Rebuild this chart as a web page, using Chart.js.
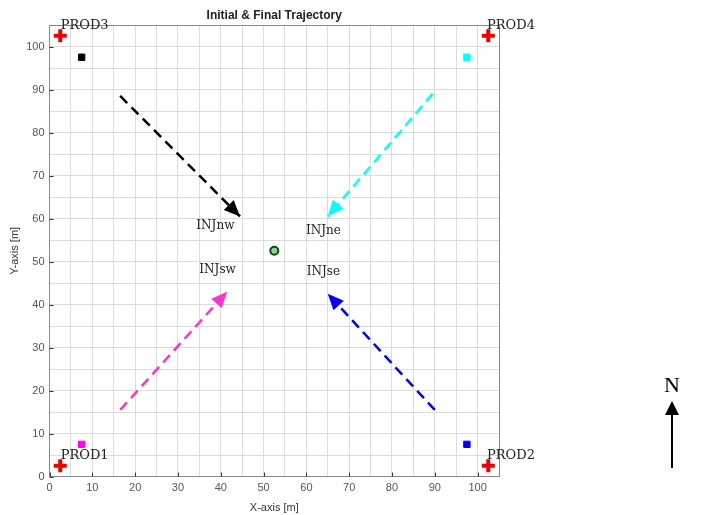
<!DOCTYPE html>
<html>
<head>
<meta charset="utf-8">
<script src="https://cdn.jsdelivr.net/npm/chart.js@4.4.0/dist/chart.umd.min.js"></script>
<style>
  html, body { margin: 0; padding: 0; background: #fff; }
  #wrap { width: 702px; height: 515px; }
</style>
</head>
<body>
<div id="wrap"><canvas id="trajChart"></canvas></div>
<script>
// Producers (red plus)
const prodX = [2.5, 102.5, 2.5, 102.5];
const prodY = [2.5, 2.5, 102.5, 102.5];
const prodNames = ['PROD1', 'PROD2', 'PROD3', 'PROD4'];
const prodLabelX = [2.6, 102.2, 2.6, 102.2];
const prodLabelY = [4.9, 4.9, 104.9, 104.9];

// Initial positions (small squares)
const startX = [7.5, 97.5, 7.5, 97.5];
const startY = [97.5, 97.5, 7.5, 7.5];
const startColors = ['#000000', '#00ffff', '#ff00ff', '#0000ff'];

// Trajectory arrows nw, ne, sw, se
const arrowX0 = [16.5, 89.5, 16.5, 90];
const arrowY0 = [88.5, 89, 15.5, 15.5];
const arrowX1 = [44.5, 65, 41.5, 65];
const arrowY1 = [60.5, 60.5, 43, 42.5];
const arrowColors = ['#000000', '#00ffff', '#ff33cc', '#0000ff'];

// Injector labels
const injNames = ['INJnw', 'INJne', 'INJsw', 'INJse'];
const injLabelX = [34.3, 59.9, 35, 60.1];
const injLabelY = [58.2, 57.2, 48.1, 47.7];

// Center well
const centerX = [52.5];
const centerY = [52.5];

const datasets = [];

// arrows as dashed lines
arrowX0.forEach((x, i) => {
    datasets.push({
        type: 'line',
        data: [{ x: x, y: arrowY0[i] }, { x: arrowX1[i], y: arrowY1[i] }],
        borderColor: arrowColors[i],
        borderWidth: 2.5,
        borderDash: [10, 6],
        pointRadius: 0,
        isArrow: true
    });
});

datasets.push({
    type: 'scatter',
    data: startX.map((x, i) => ({ x: x, y: startY[i] })),
    pointStyle: 'rect',
    pointRadius: 4.5,
    backgroundColor: startColors,
    borderColor: startColors,
    borderWidth: 1
});

datasets.push({
    type: 'scatter',
    data: prodX.map((x, i) => ({ x: x, y: prodY[i] })),
    pointStyle: 'cross',
    pointRadius: 6.5,
    borderColor: '#ee0000',
    borderWidth: 4
});

datasets.push({
    type: 'scatter',
    data: centerX.map((x, i) => ({ x: x, y: centerY[i] })),
    pointStyle: 'circle',
    pointRadius: 4,
    backgroundColor: '#8fd18f',
    borderColor: '#0a4a14',
    borderWidth: 2
});

const decorPlugin = {
    id: 'decor',
    afterDatasetsDraw(chart) {
        const ctx = chart.ctx;
        const xs = chart.scales.x, ys = chart.scales.y;
        const area = chart.chartArea;
        ctx.save();

        // arrow heads
        chart.data.datasets.forEach((ds, i) => {
            if (!ds.isArrow) return;
            const p0 = ds.data[0], p1 = ds.data[1];
            const ax = xs.getPixelForValue(p0.x), ay = ys.getPixelForValue(p0.y);
            const bx = xs.getPixelForValue(p1.x), by = ys.getPixelForValue(p1.y);
            const ang = Math.atan2(by - ay, bx - ax);
            const len = 16, half = 7;
            ctx.fillStyle = ds.borderColor;
            ctx.beginPath();
            ctx.moveTo(bx, by);
            ctx.lineTo(bx - len * Math.cos(ang) + half * Math.sin(ang), by - len * Math.sin(ang) - half * Math.cos(ang));
            ctx.lineTo(bx - len * Math.cos(ang) - half * Math.sin(ang), by - len * Math.sin(ang) + half * Math.cos(ang));
            ctx.closePath();
            ctx.fill();
        });

        // inward tick marks
        ctx.strokeStyle = '#333';
        ctx.lineWidth = 1;
        for (let v = 0; v <= 100; v += 10) {
            const px = Math.round(xs.getPixelForValue(v)) + 0.5;
            ctx.beginPath(); ctx.moveTo(px, area.bottom); ctx.lineTo(px, area.bottom - 4); ctx.stroke();
            const py = Math.round(ys.getPixelForValue(v)) + 0.5;
            ctx.beginPath(); ctx.moveTo(area.left, py); ctx.lineTo(area.left + 4, py); ctx.stroke();
        }

        // labels
        ctx.fillStyle = '#222';
        ctx.font = '13px "DejaVu Serif", "Liberation Serif", serif';
        ctx.textAlign = 'left';
        ctx.textBaseline = 'middle';
        prodNames.forEach((n, i) => {
            ctx.fillText(n, xs.getPixelForValue(prodLabelX[i]), ys.getPixelForValue(prodLabelY[i]));
        });
        ctx.font = '12px "DejaVu Serif", "Liberation Serif", serif';
        injNames.forEach((n, i) => {
            ctx.fillText(n, xs.getPixelForValue(injLabelX[i]), ys.getPixelForValue(injLabelY[i]));
        });

        // title
        ctx.fillStyle = '#222';
        ctx.font = 'bold 12px "Liberation Sans", Arial, sans-serif';
        ctx.textAlign = 'center';
        ctx.textBaseline = 'alphabetic';
        ctx.fillText('Initial & Final Trajectory', (area.left + area.right) / 2, area.top - 6);

        // north arrow
        ctx.fillStyle = '#000';
        ctx.strokeStyle = '#000';
        ctx.font = '22px "Liberation Serif", "DejaVu Serif", serif';
        ctx.textAlign = 'center';
        ctx.textBaseline = 'middle';
        ctx.fillText('N', 672, 386);
        ctx.lineWidth = 2;
        ctx.beginPath(); ctx.moveTo(672, 468); ctx.lineTo(672, 412); ctx.stroke();
        ctx.beginPath();
        ctx.moveTo(672, 401); ctx.lineTo(665, 415); ctx.lineTo(679, 415);
        ctx.closePath(); ctx.fill();

        ctx.restore();
    }
};

const gridColor = c => (c.tick && c.tick.value === 105) ? '#888' : '#dcdcdc';

const tickOpts = {
    stepSize: 5,
    padding: 5,
    color: '#555',
    autoSkip: false,
    maxRotation: 0,
    minRotation: 0,
    font: { size: 11, family: '"Liberation Sans", Arial, sans-serif' },
    callback: v => (v % 10 === 0 ? v : '')
};

new Chart(document.getElementById('trajChart'), {
    type: 'scatter',
    data: { datasets: datasets },
    options: {
        responsive: true,
        maintainAspectRatio: false,
        animation: false,
        layout: { padding: { top: 25, right: 203, left: 8, bottom: 0 } },
        plugins: {
            legend: { display: false },
            tooltip: { enabled: false }
        },
        scales: {
            x: {
                type: 'linear',
                min: 0,
                max: 105,
                border: { color: '#888' },
                grid: { color: gridColor, drawTicks: false },
                ticks: tickOpts,
                title: {
                    display: true,
                    text: 'X-axis [m]',
                    color: '#333',
                    padding: { top: 2, bottom: 0 },
                    font: { size: 11, family: '"Liberation Sans", Arial, sans-serif' }
                }
            },
            y: {
                type: 'linear',
                min: 0,
                max: 105,
                border: { color: '#888' },
                grid: { color: gridColor, drawTicks: false },
                ticks: tickOpts,
                title: {
                    display: true,
                    text: 'Y-axis [m]',
                    color: '#333',
                    padding: { top: 0, bottom: 0 },
                    font: { size: 11, family: '"Liberation Sans", Arial, sans-serif' }
                }
            }
        }
    },
    plugins: [decorPlugin]
});
</script>
</body>
</html>
